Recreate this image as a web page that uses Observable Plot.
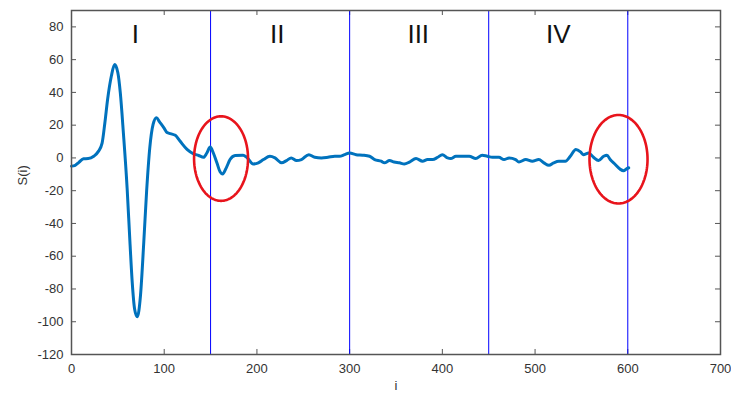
<!DOCTYPE html>
<html><head><meta charset="utf-8">
<script src="https://cdn.jsdelivr.net/npm/d3@7"></script>
<script src="https://cdn.jsdelivr.net/npm/@observablehq/plot@0.6"></script>
<style>
body{margin:0;background:#fff;}
svg{font-family:"Liberation Sans",Arial,sans-serif;}
</style>
</head><body><div id="chart"></div>
<script>
// signal S(i)
const idx = [0,4,8,13,18,24,29,33,36,39,43,46.5,50,52.6,56,60,63,65.5,68,71,74.4,78,81,84.4,88,91.6,95,99.5,103,106.7,112,117,124.6,131.7,137,142.4,146,149.6,153,156.8,160.4,163,166.8,171,176.5,185,189,196,201.5,207,214,219.5,226.6,232,237,242.7,248,256,262.4,269.6,276.7,284,289,294.6,300,307,314,321.5,327,334,337.6,343,348,353.7,359,364.5,371.6,378.7,384,389.5,395,400,405.6,409,414.6,421.7,429,436,443,448.5,454,461,466.5,472,479,482.6,490,497,504,509.5,515,520,525.6,532.7,538,544,549,552,557.8,563,568.5,574,577.5,581,586.5,592,595.4,599,601];
const sVals = [-5,-4.5,-2.7,-0.5,-0.4,1,4,9,21.5,36,50,57,52,40,15,-18.5,-51,-76,-92,-97,-84,-51,-20.5,6,20.5,24.6,22,18.5,15.5,14.8,13.8,10.3,5.2,2.5,1.5,0.4,3,6.6,3,-3,-8.6,-9.8,-6.2,-1,1.5,1.7,0.4,-3.7,-3,-1,1,0,-3,-1.6,0,-1.6,-1,2,0.4,0,0.4,1,1,2,3,2,1.7,1,-1,-2,-3,-1.6,-2.5,-3,-3.7,-2.5,-0.4,-2,-1,-1,0.4,2,0,-0.4,1,1,1,-0.4,1.7,1,0.4,0.4,-1,0,-1,-2.5,-1,-2,-1,-3,-4.5,-3,-2,-2,1,5.2,3.7,2,3,0.4,-1.6,1,1.7,-1,-4,-7,-7.8,-6.5,-6];

const xTicks = [0,100,200,300,400,500,600,700];
const yTicks = [-120,-100,-80,-60,-40,-20,0,20,40,60,80];
const boundaries = [150,300,450,600];
const regionLabels = ["I","II","III","IV"];
const regionX = [69,222,374,525];
const regionY = [75,75,75,75];
const ellipseCx = [161.3,590];
const ellipseCy = [-0.4,-0.8];
const ellipseRx = [29.1,31.3];
const ellipseRy = [25.8,27];

const signal = idx.map((i,k)=>({i, s:sVals[k]}));
const regions = regionLabels.map((t,k)=>({t, x:regionX[k], y:regionY[k]}));
const ellipses = [];
ellipseCx.forEach((cx,k)=>{
  for(let a=0;a<120;a++){
    const th = a/120*2*Math.PI;
    ellipses.push({id:k, x:cx+ellipseRx[k]*Math.cos(th), y:ellipseCy[k]+ellipseRy[k]*Math.sin(th)});
  }
});

const tickGray = "#555";
const fmt = d => String(d);
const chart = Plot.plot({
  width:731, height:394,
  marginLeft:71, marginRight:11, marginTop:10, marginBottom:40,
  style:{background:"#fff", fontSize:"13px", fontFamily:"Liberation Sans, Arial, sans-serif"},
  x:{domain:[0,700]},
  y:{domain:[-120,90]},
  marks:[
    Plot.ruleX(xTicks,{y1:-120, y2:-120+5/1.635, stroke:tickGray}),
    Plot.ruleX(xTicks,{y1:90, y2:90-5/1.635, stroke:tickGray}),
    Plot.ruleY(yTicks,{x1:0, x2:5/0.927, stroke:tickGray}),
    Plot.ruleY(yTicks,{x1:700, x2:700-5/0.927, stroke:tickGray}),
    Plot.ruleX(boundaries,{stroke:"blue", strokeWidth:1}),
    Plot.line(signal,{x:"i", y:"s", stroke:"#0072BD", strokeWidth:3, curve:"monotone-x", strokeLinejoin:"round"}),
    Plot.line(ellipses,{x:"x", y:"y", z:"id", curve:"linear-closed", stroke:"#e8141c", strokeWidth:2.6}),
    Plot.text(regions,{x:"x", y:"y", text:"t", fontSize:26, fill:"#111"}),
    Plot.frame({stroke:tickGray, strokeWidth:1.5}),
    Plot.axisX(xTicks,{tickSize:0, tickPadding:9, label:null, color:"#333", tickFormat:fmt}),
    Plot.axisY(yTicks,{tickSize:0, tickPadding:8, label:null, color:"#333", tickFormat:fmt}),
    Plot.text(["i"],{frameAnchor:"bottom", dy:35, fill:"#333"}),
    Plot.text(["S(i)"],{frameAnchor:"left", dx:-49, dy:3, rotate:-90, fill:"#333"})
  ]
});
document.getElementById("chart").appendChild(chart);
</script>
</body></html>
